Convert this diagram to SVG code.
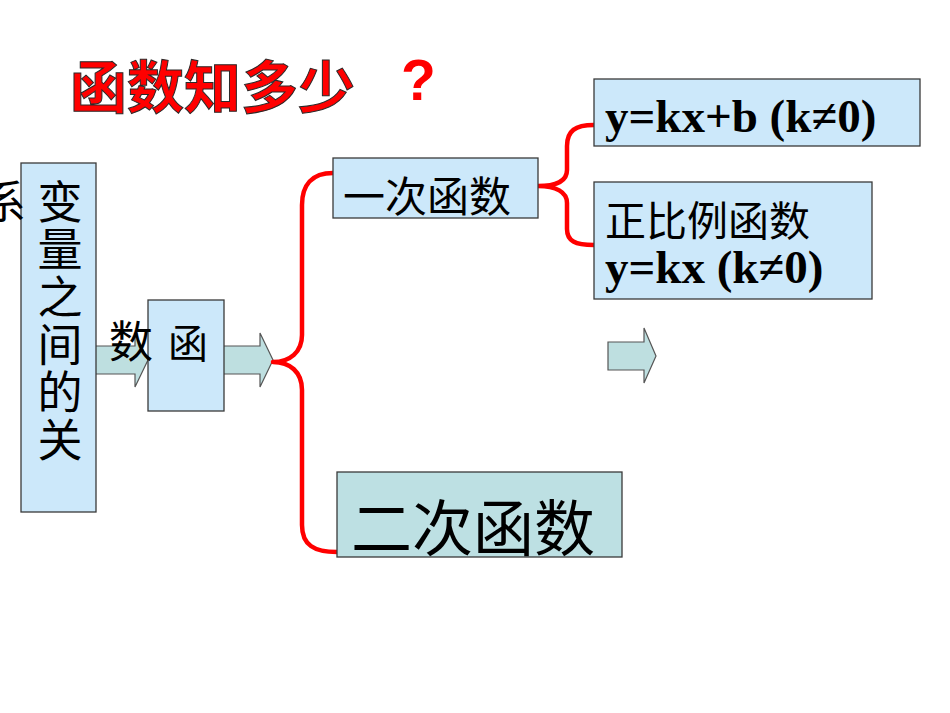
<svg xmlns="http://www.w3.org/2000/svg" width="950" height="713" viewBox="0 0 950 713">
<style>
.box{fill:#CCE8FA;stroke:#3a3a3a;stroke-width:1.3}
.box2{fill:#BDE0E3;stroke:#3a3a3a;stroke-width:1.3}
.arr{fill:#BEDFE0;stroke:#555;stroke-width:1.2}
.brace{fill:none;stroke:#FF0000;stroke-width:4.5;stroke-linejoin:round}
.cjk{font-family:"Noto Sans CJK SC","Noto Sans CJK TC",sans-serif;fill:#000}
.math{font-family:"Liberation Serif","Times New Roman",serif;font-weight:bold;fill:#000}
.title{font-family:"Noto Sans CJK SC",sans-serif;font-weight:bold;fill:#FF0000;stroke:#2a2a2a;stroke-width:1}
</style>
<g id="title">
<text class="title" x="70" y="108" font-size="57">函数知多少</text>
<text x="401" y="100" font-family="Liberation Sans,Arial,sans-serif" font-weight="bold" font-size="57" fill="#FF0000">?</text>
</g>
<g id="connectors">
<path class="arr" d="M95,346 L135,346 L135,333 L148,360 L135,387 L135,374 L95,374 Z"/>
<path class="arr" d="M223,346 L260,346 L260,333 L273,360 L260,387 L260,374 L223,374 Z"/>
<path class="arr" d="M608,342 L644,342 L644,328 L656,356 L644,383 L644,370 L608,370 Z"/>
<path class="brace" d="M333,173 C312,173 302,185 302,205 L302,335 C302,352 290,362 273,362 C290,362 302,372 302,390 L302,525 C302,545 314,552 337,552"/>
<path class="brace" d="M594,125 C575,125 567,131 567,146 L567,170 C567,181 556,186 538,186 C556,186 567,192 567,203 L567,229 C567,241 575,245 594,245"/>
</g>
<g id="node-bianliang">
<rect class="box" x="21" y="163" width="75" height="349"/>
<text class="cjk" font-size="45" text-anchor="middle" x="60" y="219">变</text>
<text class="cjk" font-size="45" text-anchor="middle" x="60" y="266">量</text>
<text class="cjk" font-size="45" text-anchor="middle" x="60" y="314">之</text>
<text class="cjk" font-size="45" text-anchor="middle" x="60" y="362">间</text>
<text class="cjk" font-size="45" text-anchor="middle" x="60" y="409">的</text>
<text class="cjk" font-size="45" text-anchor="middle" x="60" y="457">关</text>
<text class="cjk" font-size="45" x="-19" y="219">系</text>
</g>
<g id="node-hanshu">
<rect class="box" x="148" y="300" width="76" height="111"/>
<text class="cjk" font-size="40" text-anchor="middle" x="188" y="358">函</text>
<text class="cjk" font-size="44" text-anchor="middle" x="131" y="358">数</text>
</g>
<g id="node-yici">
<rect class="box" x="333" y="158" width="205" height="60"/>
<text class="cjk" font-size="42" x="343" y="212">一次函数</text>
</g>
<g id="node-linear">
<rect class="box" x="594" y="79" width="326" height="67"/>
<text class="math" font-size="47" x="605" y="132">y=kx+b (k≠0)</text>
</g>
<g id="node-proportional">
<rect class="box" x="594" y="182" width="278" height="117"/>
<text class="cjk" font-size="41" x="605" y="236">正比例函数</text>
<text class="math" font-size="47" x="605" y="283">y=kx (k≠0)</text>
</g>
<g id="node-erci">
<rect class="box2" x="337" y="472" width="285" height="85"/>
<text class="cjk" font-size="61" x="351" y="551">二次函数</text>
</g>
</svg>
